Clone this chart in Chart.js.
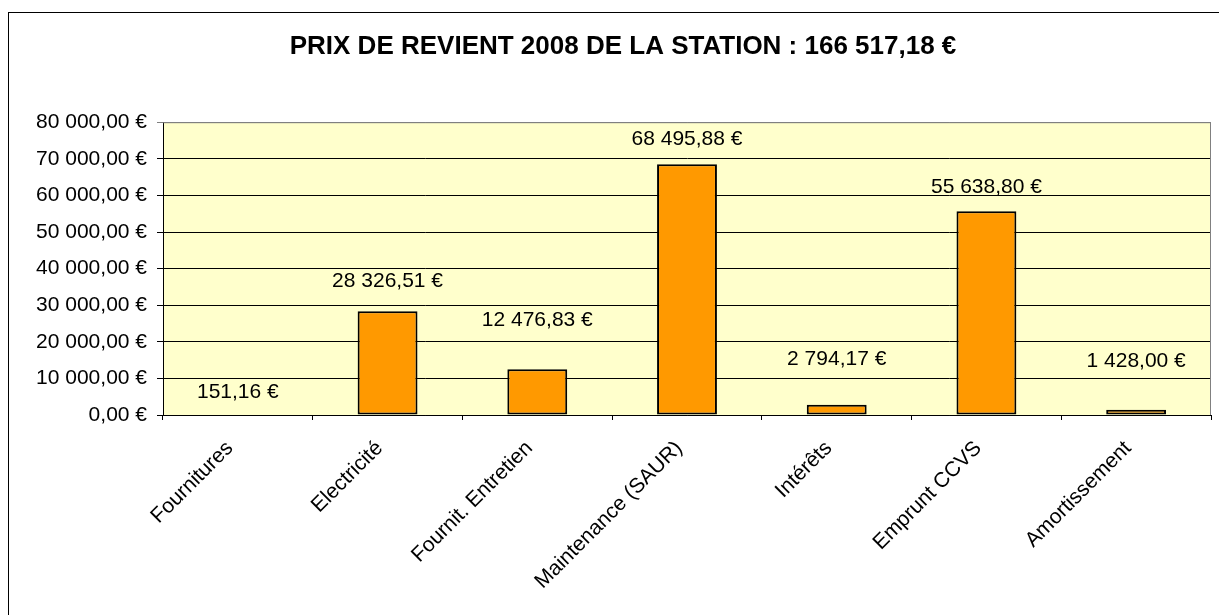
<!DOCTYPE html>
<html>
<head>
<meta charset="utf-8">
<script src="https://cdn.jsdelivr.net/npm/chart.js@4"></script>
<style>
  html, body { margin: 0; padding: 0; background: #fff; }
  #chart { display: block; }
</style>
</head>
<body>
<canvas id="chart" width="1219" height="615"></canvas>
<script>
const categories = ['Fournitures', 'Electricité', 'Fournit. Entretien', 'Maintenance (SAUR)', 'Intérêts', 'Emprunt CCVS', 'Amortissement'];
const costs = [151.16, 28326.51, 12476.83, 68495.88, 2794.17, 55638.80, 1428.00];
const yMin = 0;
const yMax = 80000;
const yStep = 10000;
const titleText = 'PRIX DE REVIENT 2008 DE LA STATION : 166 517,18 €';

const FONT = "'Liberation Sans', Arial, sans-serif";

function fmtEUR(v) {
  const parts = Number(v).toFixed(2).split('.');
  const int = parts[0].replace(/\B(?=(\d{3})+(?!\d))/g, ' ');
  return int + ',' + parts[1] + ' €';
}

// background, outer frame, plot fill and grey plot border
const frame = {
  id: 'frame',
  beforeDraw(c) {
    const ctx = c.ctx, a = c.chartArea;
    ctx.save();
    ctx.fillStyle = '#fff';
    ctx.fillRect(0, 0, c.width, c.height);
    ctx.strokeStyle = '#000';
    ctx.lineWidth = 1;
    ctx.strokeRect(8.5, 12.5, c.width + 50, c.height + 50);
    ctx.fillStyle = '#FFFFCC';
    ctx.fillRect(a.left, a.top, a.right - a.left, a.bottom - a.top);
    ctx.restore();
  },
  beforeDatasetsDraw(c) {
    const ctx = c.ctx, a = c.chartArea;
    ctx.save();
    ctx.strokeStyle = '#808080';
    ctx.lineWidth = 1;
    ctx.beginPath();
    ctx.moveTo(a.left, a.top + 0.5);
    ctx.lineTo(a.right - 0.5, a.top + 0.5);
    ctx.lineTo(a.right - 0.5, a.bottom);
    ctx.stroke();
    ctx.restore();
  }
};

// value labels above the bars (lift in px, as Excel placed them)
const valueLabels = {
  id: 'valueLabels',
  afterDatasetsDraw(c, args, opts) {
    const ctx = c.ctx;
    const meta = c.getDatasetMeta(0);
    ctx.save();
    ctx.font = '21px ' + FONT;
    ctx.fillStyle = '#000';
    ctx.textAlign = 'center';
    ctx.textBaseline = 'middle';
    meta.data.forEach((bar, i) => {
      const lift = opts.lift[i] || 25;
      ctx.fillText(fmtEUR(costs[i]), bar.x, bar.y - lift);
    });
    ctx.restore();
  }
};

new Chart(document.getElementById('chart').getContext('2d'), {
  type: 'bar',
  data: {
    labels: categories,
    datasets: [{
      data: costs,
      backgroundColor: '#FF9900',
      borderColor: '#000',
      borderWidth: 2,
      borderSkipped: false,
      barPercentage: 0.4,
      categoryPercentage: 1.0,
    }],
  },
  options: {
    responsive: false,
    animation: false,
    devicePixelRatio: 1,
    layout: { padding: { left: 35, right: 8, top: 0, bottom: 0 } },
    plugins: {
      legend: { display: false },
      tooltip: { enabled: false },
      title: {
        display: true,
        text: titleText,
        color: '#000',
        font: { family: FONT, size: 26, weight: 'bold' },
        padding: { top: 31, bottom: 60 },
      },
      valueLabels: { lift: [22, 30, 49, 25, 46, 24, 49] },
    },
    scales: {
      x: {
        afterFit: (s) => { s.height = 200; },
        grid: {
          display: true,
          drawOnChartArea: false,
          drawTicks: true,
          tickLength: 5,
          color: '#000',
          offset: true,
        },
        border: { display: true, color: '#000', width: 1 },
        ticks: {
          minRotation: 45,
          maxRotation: 45,
          autoSkip: false,
          padding: 16,
          labelOffset: -8,
          color: '#000',
          font: { family: FONT, size: 21 },
        },
      },
      y: {
        min: yMin,
        max: yMax,
        afterFit: (s) => { s.width = 128; },
        grid: {
          color: (ctx) => (ctx.tick && ctx.tick.value === yMax ? '#808080' : '#000'),
          tickLength: 6,
          drawTicks: true,
        },
        border: { display: true, color: '#000', width: 1 },
        ticks: {
          stepSize: yStep,
          padding: 10,
          color: '#000',
          font: { family: FONT, size: 21 },
          callback: (v) => fmtEUR(v),
        },
      },
    },
  },
  plugins: [frame, valueLabels],
});
</script>
</body>
</html>
